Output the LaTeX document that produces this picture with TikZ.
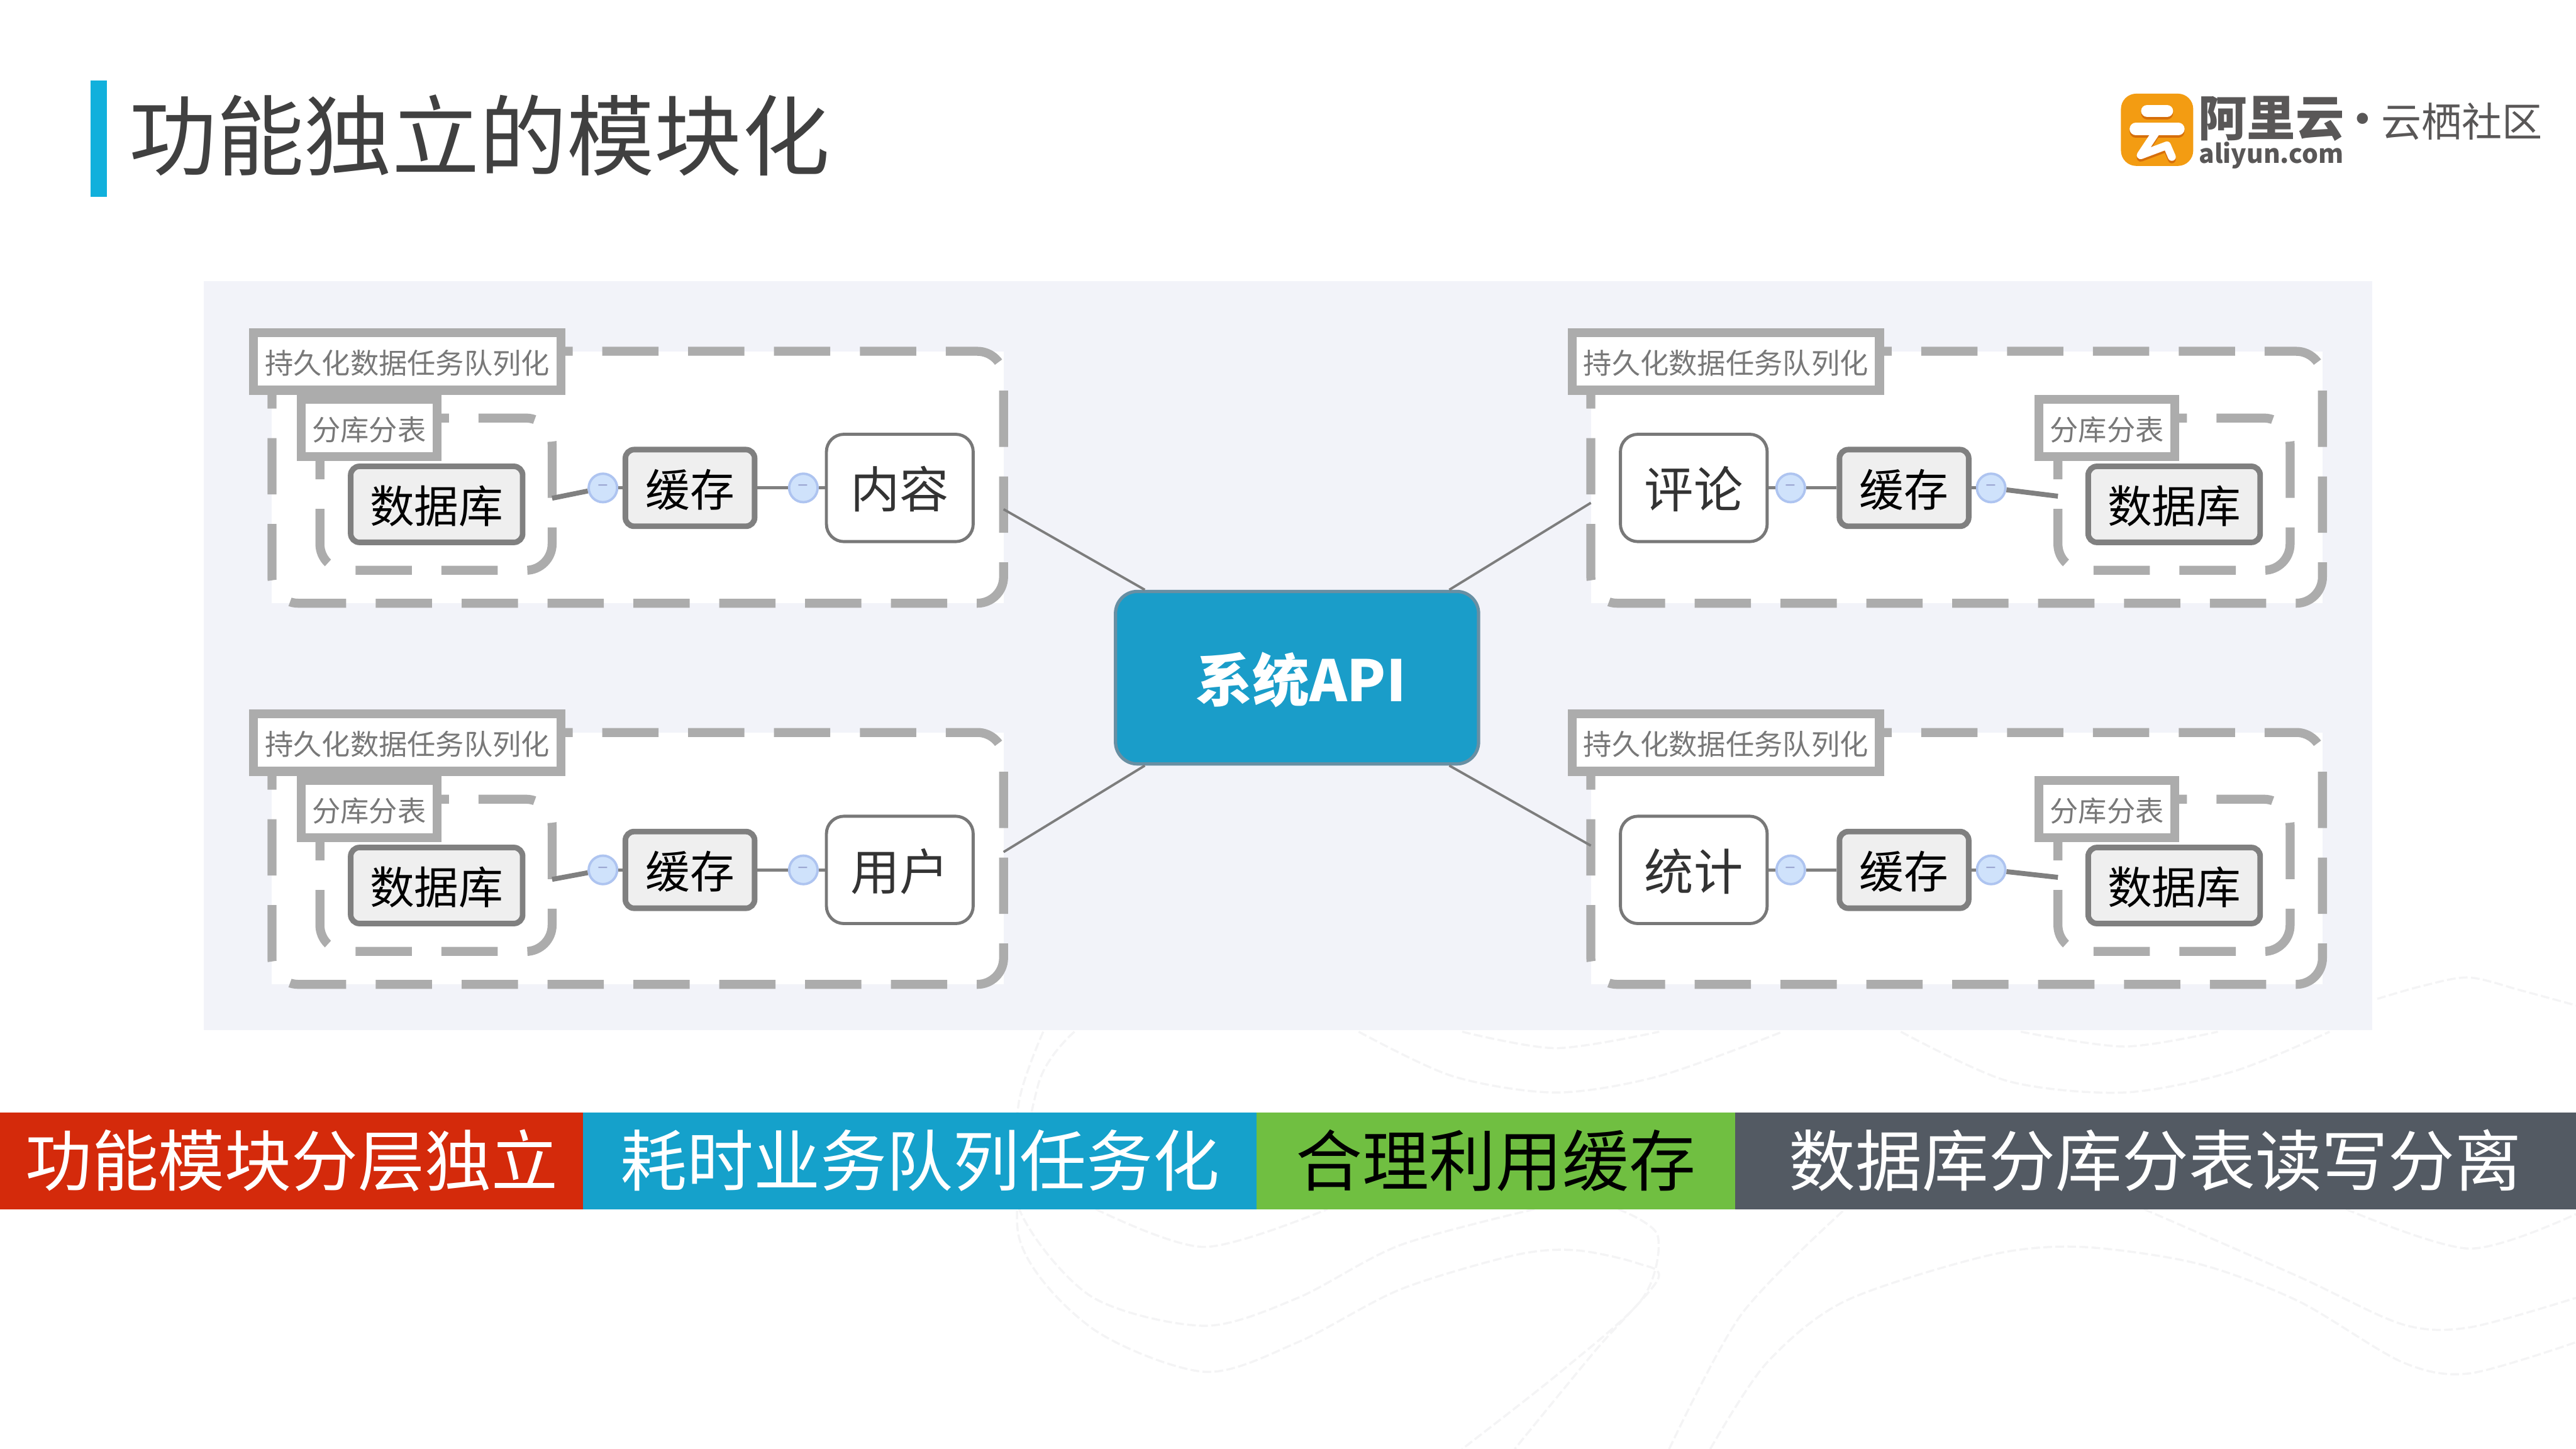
\documentclass[tikz,border=0pt]{standalone}
\usepackage{fontspec}
\setmainfont{Noto Sans CJK SC}

\tikzset{every picture/.style={line width=0.75pt}}
\tikzset{
  wavefaint/.style={draw={rgb, 255:red, 244; green, 244; blue, 245 },line width=1pt,dash pattern=on 4pt off 1.5pt},
  bandbox/.style={minimum height=44.25pt,inner sep=0pt,font=\fontsize{30.4}{32}\selectfont},
  framefill/.style={fill=white,inner sep=0pt,outer sep=0pt},
  framedash/.style={draw={rgb, 255:red, 172; green, 172; blue, 172 },line width=4.1pt,rounded corners=12pt,dash pattern=on 25.7pt off 13.5pt,dash phase=18pt},
  grouplabel/.style={draw={rgb, 255:red, 172; green, 172; blue, 172 },fill=white,line width=4.1pt,inner sep=0pt,minimum height=26.25pt,text height=12.9pt,text depth=1.5pt,text={rgb, 255:red, 120; green, 120; blue, 120 },font=\fontsize{13}{15}\selectfont},
  storebox/.style={draw={rgb, 255:red, 128; green, 128; blue, 128 },fill={rgb, 255:red, 239; green, 239; blue, 239 },line width=2.55pt,rounded corners=4pt,inner sep=0pt,text height=19.3pt,text depth=2.4pt,text=black,font=\fontsize{20.3}{22}\selectfont},
  modulebox/.style={draw={rgb, 255:red, 120; green, 120; blue, 120 },fill=white,line width=1.4pt,rounded corners=8pt,inner sep=0pt,minimum width=67pt,minimum height=49pt,text height=21pt,text depth=2.7pt,text={rgb, 255:red, 51; green, 51; blue, 51 },font=\fontsize{22.5}{24}\selectfont},
  foldpoint/.style={circle,draw={rgb, 255:red, 174; green, 196; blue, 240 },fill={rgb, 255:red, 207; green, 226; blue, 251 },line width=1.1pt,minimum size=13pt,inner sep=0pt,text={rgb, 255:red, 150; green, 160; blue, 205 },font=\fontsize{9}{9}\selectfont},
  linkthin/.style={draw={rgb, 255:red, 128; green, 128; blue, 128 },line width=1.5pt},
  linkthick/.style={draw={rgb, 255:red, 128; green, 128; blue, 128 },line width=2.25pt},
  linkmain/.style={draw={rgb, 255:red, 125; green, 125; blue, 125 },line width=1.1pt},
  logotext/.style={text={rgb, 255:red, 89; green, 87; blue, 87 },inner sep=0pt}
}

\begin{document}
\begin{tikzpicture}[x=0.75pt,y=0.75pt,yscale=-1,xscale=1]
\useasboundingbox (0,0) rectangle (1568,882);

%Shape: Faint waves
\draw [wavefaint] plot [smooth] coordinates {(1447,608) (1475,600) (1503,595) (1535,603) (1568,612)};
\draw [wavefaint] plot [smooth] coordinates {(827,628) (884,655) (947,665) (1010,655) (1085,628)};
\draw [wavefaint] plot [smooth] coordinates {(1157,628) (1222,658) (1293,665) (1360,652) (1418,628)};
\draw [wavefaint] plot [smooth] coordinates {(890,628) (947,638) (1010,628)};
\draw [wavefaint] plot [smooth] coordinates {(1230,628) (1293,637) (1350,628)};
\draw [wavefaint] plot [smooth] coordinates {(635,628) (620,672) (620,735) (664,789) (733,807) (790,790) (852,758) (934,736)};
\draw [wavefaint] plot [smooth] coordinates {(654,628) (632,660) (620,752) (664,808) (733,835) (790,817) (852,785) (922,764) (959,761) (997,769) (1009,779) (972,821) (922,882)};
\draw [wavefaint] plot [smooth] coordinates {(985,736) (1009,752) (1000,790) (950,835) (890,882)};
\draw [wavefaint] plot [smooth] coordinates {(1041,882) (1075,830) (1123,792) (1211,764) (1267,759) (1337,769) (1399,792) (1462,829) (1503,836) (1568,817)};
\draw [wavefaint] plot [smooth] coordinates {(1016,882) (1060,800) (1123,736)};
\draw [wavefaint] plot [smooth] coordinates {(1305,736) (1399,777) (1462,806) (1503,808) (1568,790)};
\draw [wavefaint] plot [smooth] coordinates {(1428,736) (1503,760) (1568,739)};
\draw [wavefaint] plot [smooth] coordinates {(667,736) (733,759) (808,736)};

%Shape: Title mark
\fill [color={rgb, 255:red, 17; green, 176; blue, 220 }] (55,49) rectangle (65,120);
% Text Node
\draw (78,82.5) node [anchor=west,inner sep=0pt,text={rgb, 255:red, 64; green, 64; blue, 64 },font=\fontsize{40}{42}\selectfont] (titletext) {功能独立的模块化};

%Shape: Logo
\fill [color={rgb, 255:red, 243; green, 156; blue, 18 },rounded corners=7pt] (1291,57) rectangle (1335,101);
\draw [color={rgb, 255:red, 214; green, 110; blue, 10 },line width=5.6pt,line cap=round] (1307,69) -- (1319,69);
\draw [color={rgb, 255:red, 214; green, 110; blue, 10 },line width=5.6pt,line cap=round] (1300,80) -- (1326,80);
\draw [color={rgb, 255:red, 214; green, 110; blue, 10 },line width=3.6pt,line cap=round,line join=round] (1312,82) -- (1303,96) -- (1319,90) -- (1322,97);
\draw [color=white,line width=5.6pt,line cap=round] (1307,67.5) -- (1319,67.5);
\draw [color=white,line width=5.6pt,line cap=round] (1300,78.5) -- (1326,78.5);
\draw [color=white,line width=3.6pt,line cap=round,line join=round] (1312,81) -- (1303,94.5) -- (1319,88.5) -- (1322,95.5);
% Text Node
\draw (1382.5,83) node [logotext,anchor=base,text height=18pt,text depth=0pt,font=\fontsize{22.2}{24}\bfseries\selectfont] (logoname) {阿里云};
% Text Node
\draw (1382.5,99.2) node [logotext,anchor=base,text height=8.5pt,text depth=3pt,font=\fontsize{11.7}{14}\bfseries\selectfont] (logosite) {aliyun.com};
% Text Node
\draw (1438,75) node [logotext,font=\fontsize{18}{20}\bfseries\selectfont] (logodot) {·};
% Text Node
\draw (1498.5,74) node [logotext,font=\fontsize{18.4}{20}\selectfont] (logosub) {云栖社区};

%Shape: Panel
\fill [color={rgb, 255:red, 242; green, 243; blue, 249 }] (124,171) rectangle (1444,627);

%Shape: Group frames
\draw (388.2,290.5) node [framefill,minimum width=334pt,minimum height=115pt] (groupcontent) {};
\draw [framedash] (groupcontent.north west) -- (groupcontent.north east) -- (groupcontent.south east) -- (groupcontent.south west) -- cycle;
\draw (1191,290.5) node [framefill,minimum width=334pt,minimum height=115pt] (groupcomment) {};
\draw [framedash] (groupcomment.north west) -- (groupcomment.north east) -- (groupcomment.south east) -- (groupcomment.south west) -- cycle;
\draw (388.2,522.5) node [framefill,minimum width=334pt,minimum height=115pt] (groupuser) {};
\draw [framedash] (groupuser.north west) -- (groupuser.north east) -- (groupuser.south east) -- (groupuser.south west) -- cycle;
\draw (1191,522.5) node [framefill,minimum width=334pt,minimum height=115pt] (groupstat) {};
\draw [framedash] (groupstat.north west) -- (groupstat.north east) -- (groupstat.south east) -- (groupstat.south west) -- cycle;
\draw (265.4,300.8) node [framefill,minimum width=106pt,minimum height=69.5pt] (shardcontent) {};
\draw [framedash] (shardcontent.north west) -- (shardcontent.north east) -- (shardcontent.south east) -- (shardcontent.south west) -- cycle;
\draw (1323.3,300.8) node [framefill,minimum width=106pt,minimum height=69.5pt] (shardcomment) {};
\draw [framedash] (shardcomment.north west) -- (shardcomment.north east) -- (shardcomment.south east) -- (shardcomment.south west) -- cycle;
\draw (265.4,532.8) node [framefill,minimum width=106pt,minimum height=69.5pt] (sharduser) {};
\draw [framedash] (sharduser.north west) -- (sharduser.north east) -- (sharduser.south east) -- (sharduser.south west) -- cycle;
\draw (1323.3,532.8) node [framefill,minimum width=106pt,minimum height=69.5pt] (shardstat) {};
\draw [framedash] (shardstat.north west) -- (shardstat.north east) -- (shardstat.south east) -- (shardstat.south west) -- cycle;

% Text Node
\draw (247.9,220) node [grouplabel,minimum width=140.3pt] (queuecontent) {持久化数据任务队列化};
% Text Node
\draw (1050.5,220) node [grouplabel,minimum width=140.3pt] (queuecomment) {持久化数据任务队列化};
% Text Node
\draw (247.9,452) node [grouplabel,minimum width=140.3pt] (queueuser) {持久化数据任务队列化};
% Text Node
\draw (1050.5,452) node [grouplabel,minimum width=140.3pt] (queuestat) {持久化数据任务队列化};
% Text Node
\draw (224.7,260.5) node [grouplabel,minimum width=62pt] (splitcontent) {分库分表};
% Text Node
\draw (1282.5,260.5) node [grouplabel,minimum width=62pt] (splitcomment) {分库分表};
% Text Node
\draw (224.7,492.5) node [grouplabel,minimum width=62pt] (splituser) {分库分表};
% Text Node
\draw (1282.5,492.5) node [grouplabel,minimum width=62pt] (splitstat) {分库分表};

% Text Node
\draw (265.8,307) node [storebox,minimum width=78.5pt,minimum height=34.7pt] (dbcontent) {数据库};
% Text Node
\draw (1323.4,307) node [storebox,minimum width=78.5pt,minimum height=34.7pt] (dbcomment) {数据库};
% Text Node
\draw (265.8,539) node [storebox,minimum width=78.5pt,minimum height=34.7pt] (dbuser) {数据库};
% Text Node
\draw (1323.4,539) node [storebox,minimum width=78.5pt,minimum height=34.7pt] (dbstat) {数据库};
% Text Node
\draw (420,297) node [storebox,minimum width=59pt,minimum height=35pt] (cachecontent) {缓存};
% Text Node
\draw (1159,297) node [storebox,minimum width=59pt,minimum height=35pt] (cachecomment) {缓存};
% Text Node
\draw (420,529.5) node [storebox,minimum width=59pt,minimum height=35pt] (cacheuser) {缓存};
% Text Node
\draw (1159,529.5) node [storebox,minimum width=59pt,minimum height=35pt] (cachestat) {缓存};
% Text Node
\draw (547.7,297) node [modulebox] (content) {内容};
% Text Node
\draw (1031,297) node [modulebox] (comment) {评论};
% Text Node
\draw (547.7,529.5) node [modulebox] (user) {用户};
% Text Node
\draw (1031,529.5) node [modulebox] (stat) {统计};

% Text Node
\draw (367,297) node [foldpoint] (foldcontenta) {–};
% Text Node
\draw (489,297) node [foldpoint] (foldcontentb) {–};
% Text Node
\draw (1090,297) node [foldpoint] (foldcommenta) {–};
% Text Node
\draw (1212,297) node [foldpoint] (foldcommentb) {–};
% Text Node
\draw (367,529.5) node [foldpoint] (foldusera) {–};
% Text Node
\draw (489,529.5) node [foldpoint] (folduserb) {–};
% Text Node
\draw (1090,529.5) node [foldpoint] (foldstata) {–};
% Text Node
\draw (1212,529.5) node [foldpoint] (foldstatb) {–};

%Straight Lines
\draw [linkthick] (foldcontenta) -- (shardcontent.-2.1);
\draw [linkthin] (foldcontenta) -- (cachecontent);
\draw [linkthin] (cachecontent) -- (foldcontentb);
\draw [linkthin] (foldcontentb) -- (content);
\draw [linkthin] (comment) -- (foldcommenta);
\draw [linkthin] (foldcommenta) -- (cachecomment);
\draw [linkthin] (cachecomment) -- (foldcommentb);
\draw [linkthick] (foldcommentb) -- (shardcomment.181.8);
\draw [linkthick] (foldusera) -- (sharduser.-2.1);
\draw [linkthin] (foldusera) -- (cacheuser);
\draw [linkthin] (cacheuser) -- (folduserb);
\draw [linkthin] (folduserb) -- (user);
\draw [linkthin] (stat) -- (foldstata);
\draw [linkthin] (foldstata) -- (cachestat);
\draw [linkthin] (cachestat) -- (foldstatb);
\draw [linkthick] (foldstatb) -- (shardstat.181.8);

% Text Node
\draw (789.5,412.5) node [draw={rgb, 255:red, 104; green, 143; blue, 163 },fill={rgb, 255:red, 26; green, 157; blue, 201 },line width=1.5pt,rounded corners=10pt,minimum width=165.75pt,minimum height=78.75pt,inner sep=0pt,text height=25pt,text depth=3.2pt,text=white,font=\fontsize{26}{29}\bfseries\selectfont] (sysapi) {\hspace*{3.5pt}系统API};

%Straight Lines
\draw [linkmain] (groupcontent.-5) -- (sysapi.150);
\draw [linkmain] (groupcomment.184.5) -- (sysapi.30);
\draw [linkmain] (groupuser.1.2) -- (sysapi.210);
\draw [linkmain] (groupstat.178.8) -- (sysapi.-30);

% Text Node
\draw (177.5,706.5) node [bandbox,minimum width=266.25pt,fill={rgb, 255:red, 212; green, 42; blue, 11 },text=white] (bandlayer) {功能模块分层独立};
% Text Node
\draw (560,706.5) node [bandbox,minimum width=307.5pt,fill={rgb, 255:red, 21; green, 161; blue, 203 },text=white] (bandqueue) {耗时业务队列任务化};
% Text Node
\draw (910.5,706.5) node [bandbox,minimum width=218.25pt,fill={rgb, 255:red, 112; green, 191; blue, 65 },text=black] (bandcache) {合理利用缓存};
% Text Node
\draw (1312,706.5) node [bandbox,minimum width=384pt,fill={rgb, 255:red, 83; green, 90; blue, 99 },text=white] (bandstore) {数据库分库分表读写分离};

\end{tikzpicture}
\end{document}
